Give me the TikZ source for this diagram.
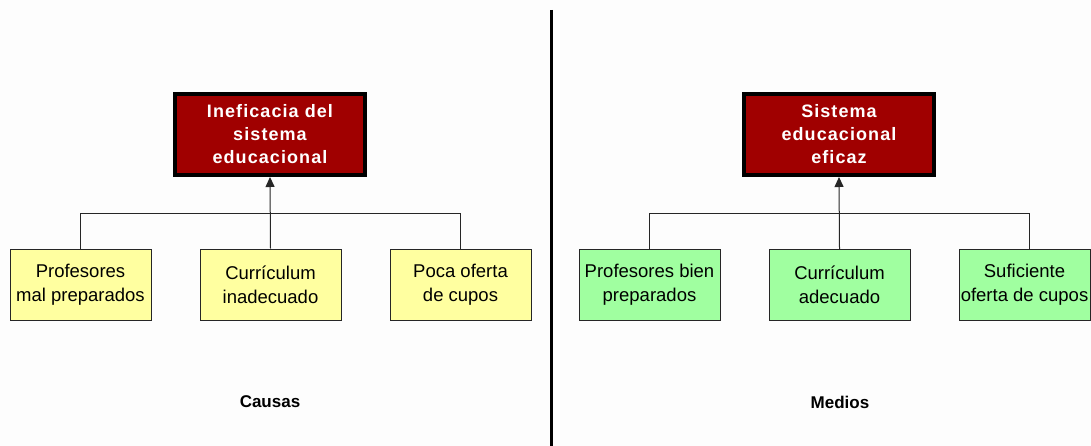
\documentclass[tikz,border=0pt]{standalone}
\usepackage{fontspec}
\setmainfont{Liberation Sans}
\newfontfamily\titlefont[LetterSpace=6]{Liberation Sans}
\usetikzlibrary{arrows.meta}
\definecolor{boxred}{RGB}{160,0,0}
\definecolor{boxyellow}{RGB}{255,255,160}
\definecolor{boxgreen}{RGB}{160,255,160}
\definecolor{bg}{RGB}{253,253,253}
\tikzset{
  topbox/.style={draw=black, line width=4pt, fill=boxred, text=white,
    minimum width=190pt, minimum height=81pt, inner sep=0pt,
    align=center, font=\titlefont\bfseries\fontsize{18}{23}\selectfont},
  causebox/.style={draw=black!85, line width=1pt, fill=boxyellow,
    minimum width=141pt, minimum height=71pt, inner sep=0pt,
    align=center, font=\fontsize{18.5}{24}\selectfont},
  meanbox/.style={causebox, fill=boxgreen},
  link/.style={draw=black!85, line width=1pt},
  uparrow/.style={link, -{Triangle[width=9pt,length=10pt]}},
  caption/.style={font=\bfseries\fontsize{17}{18}\selectfont}
}
\begin{document}
\begin{tikzpicture}[x=1pt,y=-1pt]
\fill[bg] (0,0) rectangle (1091,446);
\useasboundingbox (0,0) rectangle (1091,446);
% divider
\coordinate (dtop) at (551,10);
\coordinate (dbot) at (551,446);
\draw[line width=3pt] (dtop) -- (dbot);
% left
\node[topbox] (t1) at (270,134.5) {Ineficacia del\\sistema\\educacional};
\node[causebox] (c1) at (80.5,284.5) {Profesores\\mal preparados};
\node[causebox] (c2) at (270.5,284.5) {Currículum\\inadecuado};
\node[causebox] (c3) at (460.5,284.5) {Poca oferta\\de cupos};
\coordinate (j1) at (270.5,213.5);
\draw[link] (c1.north) |- (j1) -| (c3.north);
\draw[uparrow] (c2.north) -- (t1.south);
\node[caption] (k1) at (270,402) {Causas};
% right
\node[topbox] (t2) at (839,134.5) {Sistema\\educacional\\eficaz};
\node[meanbox] (m1) at (649.5,285) {Profesores bien\\preparados};
\node[meanbox] (m2) at (839.5,285) {Currículum\\adecuado};
\node[meanbox, minimum width=131pt] (m3) at (1024.5,285) {Suficiente\\oferta de cupos};
\coordinate (j2) at (839.5,213.5);
\draw[link] (m1.north) |- (j2) -| ([xshift=5pt]m3.north);
\draw[uparrow] (m2.north) -- (t2.south);
\node[caption] (k2) at (840,402) {Medios};
\end{tikzpicture}
\end{document}
